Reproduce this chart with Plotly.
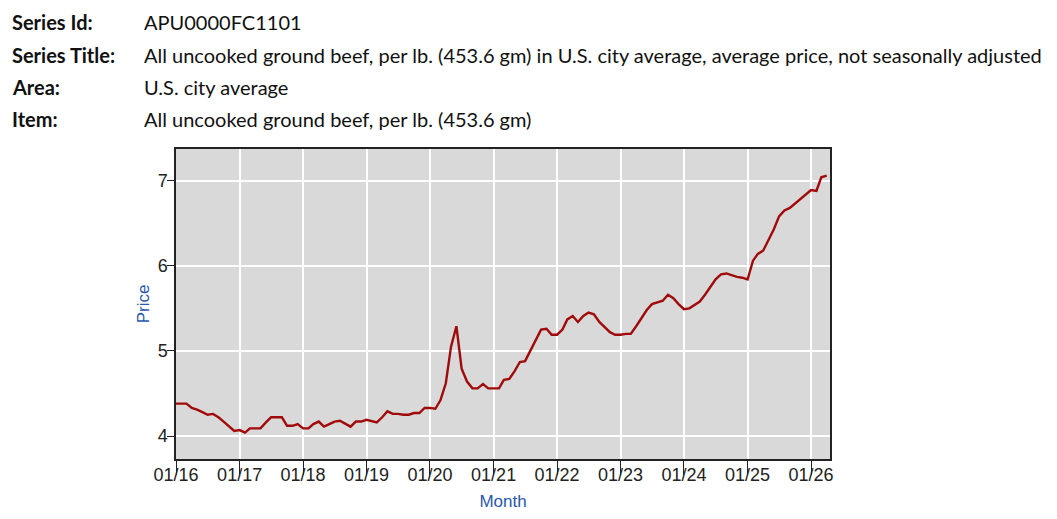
import pandas as pd
import plotly.graph_objects as go

# header block
header_labels = ["Series Id:", "Series Title:", "Area:", "Item:"]
header_values = [
    "APU0000FC1101",
    "All uncooked ground beef, per lb. (453.6 gm) in U.S. city average, average price, not seasonally adjusted",
    "U.S. city average",
    "All uncooked ground beef, per lb. (453.6 gm)",
]

# monthly average price, Jan 2016 onwards
prices = [
    4.38, 4.38, 4.38, 4.33, 4.31, 4.28, 4.25, 4.26, 4.22, 4.17, 4.11, 4.06,  # 2016
    4.07, 4.04, 4.09, 4.09, 4.09, 4.16, 4.22, 4.22, 4.22, 4.12, 4.12, 4.14,  # 2017
    4.09, 4.09, 4.14, 4.17, 4.11, 4.14, 4.17, 4.18, 4.14, 4.11, 4.17, 4.17,  # 2018
    4.19, 4.17, 4.16, 4.22, 4.29, 4.26, 4.26, 4.25, 4.25, 4.27, 4.27, 4.33,  # 2019
    4.33, 4.32, 4.42, 4.62, 5.05, 5.29, 4.79, 4.64, 4.56, 4.56, 4.61, 4.56,  # 2020
    4.56, 4.56, 4.66, 4.67, 4.76, 4.87, 4.88, 5.00, 5.12, 5.25, 5.26, 5.19,  # 2021
    5.19, 5.25, 5.37, 5.41, 5.34, 5.41, 5.45, 5.43, 5.34, 5.28, 5.22, 5.19,  # 2022
    5.19, 5.20, 5.20, 5.29, 5.38, 5.48, 5.55, 5.57, 5.59, 5.66, 5.62, 5.55,  # 2023
    5.49, 5.50, 5.54, 5.58, 5.66, 5.75, 5.84, 5.90, 5.91, 5.89, 5.87, 5.86,  # 2024
    5.84, 6.06, 6.14, 6.18, 6.30, 6.43, 6.58, 6.65, 6.68, 6.73, 6.79, 6.84,  # 2025
    6.89, 6.88, 7.04, 7.06,                                                  # 2026
]
months = pd.date_range("2016-01-01", periods=len(prices), freq="MS")

# the page puts an 8px body margin round the figure
OFF = 8
W, H = 1057 - 2 * OFF, 519 - 2 * OFF


def fx(px):
    return (px - OFF) / W


def fy(py):
    return 1 - (py - OFF) / H


fig = go.Figure()

fig.add_trace(go.Scatter(
    x=months, y=prices, mode="lines",
    line=dict(color="#a00a0a", width=2.4),
    hoverinfo="x+y", showlegend=False,
))

# header text rows
head_font = dict(family="Lato, Noto Sans, sans-serif", size=20, color="#111111")
row_y = [22, 55, 87, 119]
for lab, val, yy in zip(header_labels, header_values, row_y):
    fig.add_annotation(
        x=fx(10), y=fy(yy), xref="paper", yref="paper",
        xanchor="left", yanchor="middle", showarrow=False,
        text="<b>" + lab + "</b>", font=head_font,
    )
    fig.add_annotation(
        x=fx(142), y=fy(yy), xref="paper", yref="paper",
        xanchor="left", yanchor="middle", showarrow=False,
        text=val, font=head_font,
    )

axis_font = dict(family="Liberation Sans, Arial, sans-serif", size=18, color="#222222")
title_font = dict(family="Liberation Sans, Arial, sans-serif", size=17, color="#2a58ad")

fig.update_layout(
    width=W, height=H,
    margin=dict(l=0, r=0, t=0, b=0),
    paper_bgcolor="white",
    plot_bgcolor="#d9d9d9",
    xaxis=dict(
        domain=[fx(176), fx(830)],
        range=["2016-01-01", "2026-04-20"],
        tick0="2016-01-01", dtick="M12", tickformat="%m/%y",
        ticks="outside", ticklen=14, tickcolor="#222222", tickwidth=1,
        ticklabelstandoff=-15,
        tickfont=axis_font,
        showgrid=True, gridcolor="white", gridwidth=2,
        showline=True, linecolor="#222222", linewidth=1.5, mirror=True,
        zeroline=False,
        title=dict(text="Month", font=title_font, standoff=16),
        automargin=False,
    ),
    yaxis=dict(
        domain=[fy(459), fy(149)],
        range=[3.73, 7.372],
        tickvals=[4, 5, 6, 7],
        ticks="outside", ticklen=7, tickcolor="#222222", tickwidth=1,
        ticklabelstandoff=-4,
        tickfont=axis_font,
        showgrid=True, gridcolor="white", gridwidth=2,
        showline=True, linecolor="#222222", linewidth=1.5, mirror=True,
        zeroline=False,
        title=dict(text="Price", font=title_font, standoff=4),
        automargin=False,
    ),
)

fig.write_html("out.html")
